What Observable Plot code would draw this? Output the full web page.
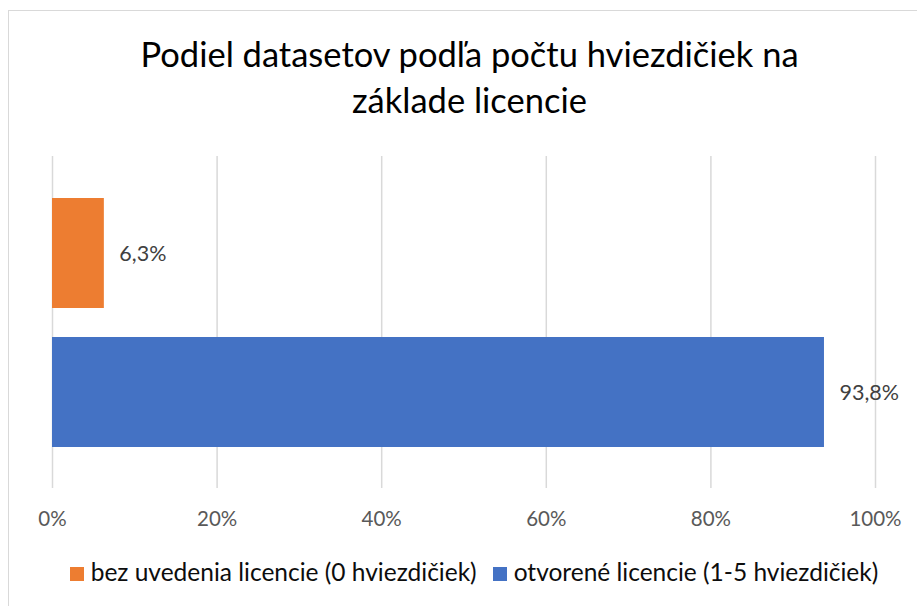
<!DOCTYPE html>
<html><head><meta charset="utf-8">
<script src="https://cdn.jsdelivr.net/npm/d3@7"></script>
<script src="https://cdn.jsdelivr.net/npm/@observablehq/plot@0.6"></script>
<style>
body{margin:0;background:#fff;}
#chart{position:relative;width:917px;height:606px;overflow:hidden;font-family:Lato,"Open Sans",sans-serif;background:#fff;}
#frame{position:absolute;left:8px;top:10px;width:1000px;height:1000px;border-top:1.5px solid #d9d9d9;border-left:1.5px solid #d9d9d9;}
#title{position:absolute;left:0;top:31px;width:939px;text-align:center;font-size:34.5px;line-height:45.5px;color:#000;}
#plot{position:absolute;left:0;top:140px;}
#legend{position:absolute;left:0;top:560px;width:948px;display:flex;justify-content:center;align-items:center;font-size:24.5px;line-height:24px;color:#0d0d0d;white-space:nowrap;}
.item{display:flex;align-items:center;}
.sw{width:14px;height:14px;margin-right:7px;position:relative;top:1.5px;}
.item + .item{margin-left:16px;}
</style></head>
<body>
<div id="chart">
  <div id="frame"></div>
  <div id="title">Podiel datasetov podľa počtu hviezdičiek na<br>základe licencie</div>
  <div id="plot"></div>
  <div id="legend"></div>
</div>
<script>
const categories = ["bez uvedenia licencie (0 hviezdičiek)", "otvorené licencie (1-5 hviezdičiek)"];
const values = [0.063, 0.938];
const colors = ["#ED7D31", "#4472C4"];
const xTicks = [0, 0.2, 0.4, 0.6, 0.8, 1];
const xTickLabels = ["0%", "20%", "40%", "60%", "80%", "100%"];

const data = categories.map((c, i) => ({category: c, value: values[i]}));
const fmt = v => (v * 100).toFixed(1).replace(".", ",") + "%";

const plot = Plot.plot({
  width: 917,
  height: 400,
  marginTop: 16,
  marginBottom: 52,
  marginLeft: 52,
  marginRight: 42,
  style: {fontFamily: 'Lato, "Open Sans", sans-serif', background: "transparent", overflow: "visible"},
  x: {domain: [0, 1], ticks: xTicks, tickFormat: d => xTickLabels[xTicks.indexOf(d)], label: null},
  y: {domain: categories, paddingInner: 0.2115, paddingOuter: 0.296, axis: null},
  color: {domain: categories, range: colors},
  marks: [
    Plot.ruleX(xTicks, {stroke: "#d9d9d9", strokeWidth: 1.5}),
    Plot.barX(data, {x: "value", y: "category", fill: "category"}),
    Plot.text(data, {x: "value", y: "category", text: d => fmt(d.value), textAnchor: "start", dx: 15, fontSize: 21.5, fill: "#404040", dy: 1}),
    Plot.axisX({ticks: xTicks, tickFormat: d => xTickLabels[xTicks.indexOf(d)], tickSize: 0, tickPadding: 23, fontSize: 20.5, color: "#595959", label: null})
  ]
});
document.getElementById("plot").appendChild(plot);

const legend = document.getElementById("legend");
categories.forEach((c, i) => {
  const item = document.createElement("div");
  item.className = "item";
  const sw = document.createElement("div");
  sw.className = "sw";
  sw.style.background = colors[i];
  const t = document.createElement("span");
  t.textContent = c;
  item.appendChild(sw);
  item.appendChild(t);
  legend.appendChild(item);
});
</script>
</body></html>
